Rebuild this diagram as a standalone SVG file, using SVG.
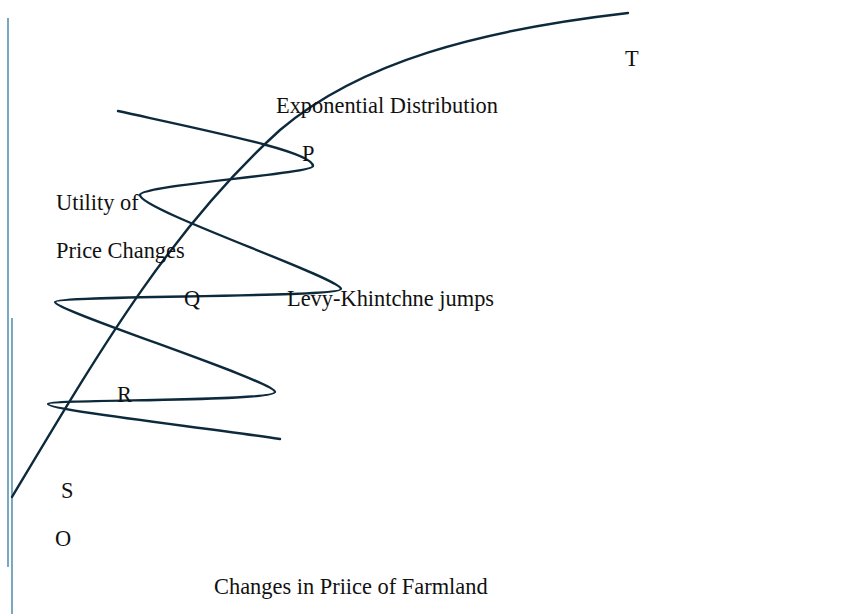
<svg xmlns="http://www.w3.org/2000/svg" width="862" height="614" viewBox="0 0 862 614">
<style>
.lbl{font-family:"Liberation Serif","Times New Roman",serif;font-size:22.4px;fill:#111}
.crv{fill:none;stroke:#0d2a3c;stroke-width:2.4;stroke-linecap:round}
.ax{stroke:#2f7aa0;stroke-width:1.3}
</style>
<rect width="862" height="614" fill="#fff"/>
<g id="axes">
<line class="ax" x1="8" y1="18" x2="8" y2="567"/>
<line class="ax" x1="12" y1="318" x2="12" y2="614"/>
</g>
<g id="connectors">
<path id="exp-curve" class="crv" d="M12,497 C100,350 170,230 280,130 C360,62 480,30 628,13"/>
<path id="levy-curve" class="crv" d="M118,111 C218,133 313,152 313,166 C313,174 140,185 140,195 C140,210 341,278 341,289 C341,298 55,295 55,302 C55,311 275,381 275,392 C275,402 48,399 48,404 C48,410 200,427 280,439"/>
</g>
<g id="label-T"><text class="lbl" x="625" y="66">T</text></g>
<g id="label-exp"><text class="lbl" x="276" y="113">Exponential Distribution</text></g>
<g id="label-P"><text class="lbl" x="302" y="161">P</text></g>
<g id="label-utility"><text class="lbl" x="56" y="210">Utility of</text><text class="lbl" x="56" y="258">Price Changes</text></g>
<g id="label-Q"><text class="lbl" x="184" y="306">Q</text></g>
<g id="label-levy"><text class="lbl" x="287" y="306">Levy-Khintchne jumps</text></g>
<g id="label-R"><text class="lbl" x="117" y="402">R</text></g>
<g id="label-S"><text class="lbl" x="61" y="498">S</text></g>
<g id="label-O"><text class="lbl" x="55" y="546">O</text></g>
<g id="label-x"><text class="lbl" x="214" y="594">Changes in Priice of Farmland</text></g>
</svg>
